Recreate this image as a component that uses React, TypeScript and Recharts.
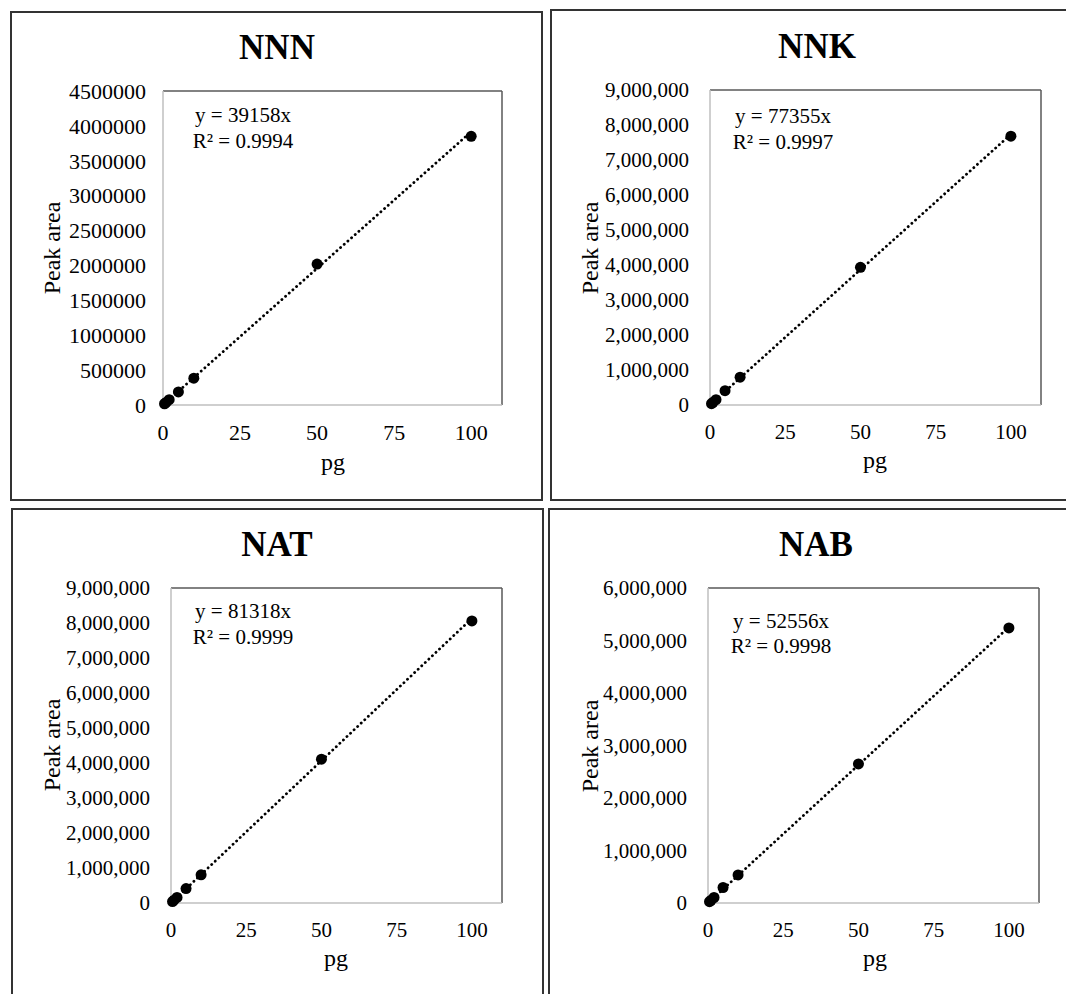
import React from 'react';
import { ScatterChart, Scatter, XAxis, YAxis, ReferenceLine } from 'recharts';

// ---- data ----
const pgLevels = [0.5, 1, 2, 5, 10, 50, 100];
const nnnArea = [18000, 37000, 76000, 188000, 385000, 2020000, 3850000];
const nnkArea = [38000, 76000, 152000, 410000, 795000, 3935000, 7680000];
const natArea = [40000, 80000, 160000, 412000, 805000, 4110000, 8060000];
const nabArea = [26000, 52000, 105000, 295000, 535000, 2650000, 5240000];

const xTicks = [0, 25, 50, 75, 100];
const xMax = 110;
const nnnTicks = [0, 500000, 1000000, 1500000, 2000000, 2500000, 3000000, 3500000, 4000000, 4500000];
const nnkTicks = [0, 1000000, 2000000, 3000000, 4000000, 5000000, 6000000, 7000000, 8000000, 9000000];
const natTicks = [0, 1000000, 2000000, 3000000, 4000000, 5000000, 6000000, 7000000, 8000000, 9000000];
const nabTicks = [0, 1000000, 2000000, 3000000, 4000000, 5000000, 6000000];

// trendline endpoints (y = slope * x, forced through origin)
const trendX = [0.5, 100];
const nnnTrend = [19579, 3915800];
const nnkTrend = [38678, 7735500];
const natTrend = [40659, 8131800];
const nabTrend = [26278, 5255600];

const titles = ['NNN', 'NNK', 'NAT', 'NAB'];
const equations = ['y = 39158x', 'y = 77355x', 'y = 81318x', 'y = 52556x'];
const rSquared = ['R² = 0.9994', 'R² = 0.9997', 'R² = 0.9999', 'R² = 0.9998'];
const xLabel = 'pg';
const yLabel = 'Peak area';

const FONT = '"Liberation Serif", "Times New Roman", serif';

const toPoints = (xs: number[], ys: number[]) => xs.map((x, i) => ({ x, y: ys[i] }));

type Layout = {
  border: { x: number; y: number; w: number; h: number };
  box: { x: number; y: number; w: number; h: number };
  plot: { l: number; r: number; t: number; b: number };
  yTickMargin: number;
  tickFont: number;
  titlePos: [number, number];
  eqPos: [number, number, number];
  yLabelPos: [number, number];
  xLabelPos: [number, number];
};

const layouts: Layout[] = [
  {
    border: { x: 10, y: 11, w: 533, h: 490 },
    box: { x: 10, y: 11, w: 533, h: 490 },
    plot: { l: 163, r: 502, t: 91, b: 405 },
    yTickMargin: 17,
    tickFont: 22,
    titlePos: [277, 59],
    eqPos: [243, 122, 148],
    yLabelPos: [52, 248],
    xLabelPos: [333, 470],
  },
  {
    border: { x: 550, y: 9, w: 530, h: 492 },
    box: { x: 550, y: 9, w: 516, h: 492 },
    plot: { l: 710, r: 1041, t: 90, b: 405 },
    yTickMargin: 21,
    tickFont: 21,
    titlePos: [817, 58],
    eqPos: [783, 123, 149],
    yLabelPos: [590, 248],
    xLabelPos: [875, 468],
  },
  {
    border: { x: 11, y: 508, w: 533, h: 500 },
    box: { x: 11, y: 508, w: 533, h: 486 },
    plot: { l: 171, r: 502, t: 588, b: 903 },
    yTickMargin: 21,
    tickFont: 21,
    titlePos: [277, 556],
    eqPos: [243, 618, 644],
    yLabelPos: [52, 745],
    xLabelPos: [336, 966],
  },
  {
    border: { x: 548, y: 508, w: 530, h: 500 },
    box: { x: 548, y: 508, w: 518, h: 486 },
    plot: { l: 708, r: 1039, t: 588, b: 903 },
    yTickMargin: 21,
    tickFont: 21,
    titlePos: [816, 556],
    eqPos: [781, 628, 653],
    yLabelPos: [590, 746],
    xLabelPos: [875, 966],
  },
];

const fmtPlain = (v: number) => String(v);
const fmtComma = (v: number) => v.toLocaleString('en-US');

const panels = [
  { area: nnnArea, trend: nnnTrend, ticks: nnnTicks, fmt: fmtPlain },
  { area: nnkArea, trend: nnkTrend, ticks: nnkTicks, fmt: fmtComma },
  { area: natArea, trend: natTrend, ticks: natTicks, fmt: fmtComma },
  { area: nabArea, trend: nabTrend, ticks: nabTicks, fmt: fmtComma },
];

const Dot = (props: any) => {
  const { cx, cy } = props;
  if (cx == null || cy == null) return <g />;
  return <circle cx={cx} cy={cy} r={5.5} fill="#000" />;
};
const NoShape = () => <g />;

function Panel({ idx }: { idx: number }) {
  const L = layouts[idx];
  const P = panels[idx];
  const { box, plot } = L;
  const xAxisH = 30;
  const margin = {
    top: plot.t - box.y,
    right: box.x + box.w - plot.r,
    left: 0,
    bottom: box.y + box.h - plot.b - xAxisH,
  };
  const yMax = P.ticks[P.ticks.length - 1];
  const tickStyle = { fontSize: L.tickFont, fill: '#000', fontFamily: FONT };
  return (
    <div style={{ position: 'absolute', left: box.x, top: box.y, width: box.w, height: box.h }}>
      <ScatterChart width={box.w} height={box.h} margin={margin}>
        <XAxis
          dataKey="x"
          type="number"
          domain={[0, xMax]}
          ticks={xTicks}
          height={xAxisH}
          tickLine={false}
          tickSize={0}
          tickMargin={19}
          tick={tickStyle}
          axisLine={false}
        />
        <YAxis
          dataKey="y"
          type="number"
          domain={[0, yMax]}
          ticks={P.ticks}
          width={plot.l - box.x}
          tickLine={false}
          tickSize={0}
          tickMargin={L.yTickMargin}
          tick={tickStyle}
          tickFormatter={P.fmt}
          axisLine={false}
        />
        <ReferenceLine y={yMax} stroke="#595959" strokeWidth={1.5} ifOverflow="visible" />
        <ReferenceLine x={xMax} stroke="#595959" strokeWidth={1.5} ifOverflow="visible" />
        <ReferenceLine y={0} stroke="#bfbfbf" strokeWidth={1.5} ifOverflow="visible" />
        <ReferenceLine x={0} stroke="#bfbfbf" strokeWidth={1.5} ifOverflow="visible" />
        <Scatter
          data={toPoints(trendX, P.trend)}
          line={{ stroke: '#000', strokeWidth: 2.8, strokeDasharray: '0.1 4.8', strokeLinecap: 'round' }}
          shape={NoShape}
          isAnimationActive={false}
          legendType="none"
        />
        <Scatter data={toPoints(pgLevels, P.area)} shape={Dot} isAnimationActive={false} />
      </ScatterChart>
    </div>
  );
}

export default function App() {
  return (
    <div
      style={{
        position: 'absolute',
        left: 0,
        top: 0,
        width: 1066,
        height: 994,
        overflow: 'hidden',
        background: '#fff',
      }}
    >
      {layouts.map((L, i) => (
        <div
          key={'b' + i}
          style={{
            position: 'absolute',
            left: L.border.x,
            top: L.border.y,
            width: L.border.w,
            height: L.border.h,
            border: '2px solid #333',
            boxSizing: 'border-box',
          }}
        />
      ))}
      {layouts.map((_, i) => (
        <Panel key={'p' + i} idx={i} />
      ))}
      <svg
        width={1066}
        height={994}
        style={{ position: 'absolute', left: 0, top: 0, pointerEvents: 'none' }}
      >
        {layouts.map((L, i) => (
          <g key={'t' + i} fontFamily={FONT} fill="#000">
            <text x={L.titlePos[0]} y={L.titlePos[1]} textAnchor="middle" fontSize={35} fontWeight="bold">
              {titles[i]}
            </text>
            <text x={L.eqPos[0]} y={L.eqPos[1]} textAnchor="middle" fontSize={21}>
              {equations[i]}
            </text>
            <text x={L.eqPos[0]} y={L.eqPos[2]} textAnchor="middle" fontSize={21}>
              {rSquared[i]}
            </text>
            <text
              x={L.yLabelPos[0]}
              y={L.yLabelPos[1]}
              textAnchor="middle"
              dy="0.35em"
              fontSize={24}
              transform={`rotate(-90, ${L.yLabelPos[0]}, ${L.yLabelPos[1]})`}
            >
              {yLabel}
            </text>
            <text x={L.xLabelPos[0]} y={L.xLabelPos[1]} textAnchor="middle" fontSize={24}>
              {xLabel}
            </text>
          </g>
        ))}
      </svg>
    </div>
  );
}
